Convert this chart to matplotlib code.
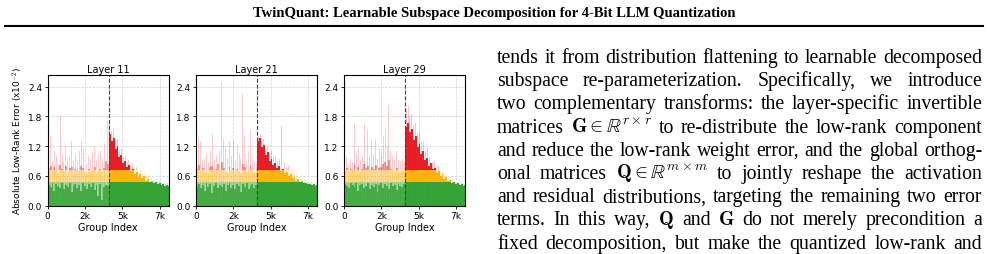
import numpy as np
import matplotlib
matplotlib.use("Agg")
import matplotlib.pyplot as plt

plt.rcParams['mathtext.fontset'] = 'cm'

# ---------------- data ----------------
layers = ["Layer 11", "Layer 21", "Layer 29"]
x_ticks = [0, 2500, 5000, 7500]
x_tick_labels = ["0", "2k", "5k", "7k"]
y_ticks = [0.0, 0.6, 1.2, 1.8, 2.4]
y_tick_labels = ["0.0", "0.6", "1.2", "1.8", "2.4"]
split_index = 4096
bin_size = 128
thresholds = [0.48, 0.72]

# per-bin spike heights (pale), body heights, and left-half floor (green dips)
l11_peak = [0.95, 1.41, 0.90, 1.10, 1.00, 0.85, 1.80, 1.05, 0.90, 1.20, 0.95, 1.00, 1.30, 0.90, 1.05, 0.88,
            1.10, 1.30, 1.15, 0.92, 0.85, 1.00, 0.95, 1.08, 1.20, 0.90, 1.05, 1.10, 0.95, 1.25, 2.27, 1.70,
            1.65, 1.50, 1.55, 1.30, 1.35, 1.12, 1.15, 0.98, 1.00, 0.88, 0.92, 0.80, 0.84, 0.74, 0.78, 0.68,
            0.72, 0.64, 0.66, 0.58, 0.60, 0.54, 0.56, 0.50, 0.52, 0.48, 0.49, 0.46, 0.47, 0.44, 0.45, 0.43]
l11_body = [0.75, 0.80, 0.70, 0.78, 0.72, 0.66, 0.82, 0.74, 0.70, 0.80, 0.68, 0.76, 0.78, 0.65, 0.74, 0.72,
            0.70, 0.80, 0.75, 0.68, 0.66, 0.74, 0.70, 0.72, 0.78, 0.64, 0.70, 0.74, 0.68, 0.76, 0.90, 0.85,
            1.45, 1.30, 1.36, 1.14, 1.20, 0.98, 1.03, 0.86, 0.91, 0.77, 0.82, 0.69, 0.74, 0.63, 0.68, 0.58,
            0.63, 0.55, 0.59, 0.50, 0.54, 0.47, 0.50, 0.45, 0.47, 0.43, 0.45, 0.42, 0.43, 0.40, 0.42, 0.39]
l11_floor = [0.42, 0.38, 0.45, 0.30, 0.44, 0.40, 0.35, 0.46, 0.33, 0.42, 0.38, 0.45, 0.28, 0.40, 0.44, 0.36,
             0.42, 0.30, 0.45, 0.40, 0.34, 0.43, 0.38, 0.46, 0.32, 0.41, 0.20, 0.44, 0.12, 0.38, 0.42, 0.40]

l21_peak = [1.00, 1.38, 1.30, 0.90, 0.95, 1.05, 0.88, 1.10, 1.45, 0.92, 1.00, 1.95, 1.10, 2.49, 1.35, 1.20,
            0.95, 1.30, 1.00, 1.30, 0.90, 1.20, 1.05, 0.95, 2.26, 1.40, 0.90, 1.10, 1.50, 0.95, 0.90, 0.85,
            1.40, 1.45, 1.30, 1.35, 1.15, 1.20, 1.05, 1.10, 0.98, 1.00, 0.90, 0.95, 1.60, 0.86, 0.88, 0.78,
            0.80, 0.70, 0.74, 0.64, 0.66, 0.57, 0.60, 0.52, 0.54, 0.48, 0.50, 0.46, 0.47, 0.44, 0.45, 0.42]
l21_body = [0.74, 0.82, 0.70, 0.76, 0.68, 0.72, 0.66, 0.78, 0.80, 0.70, 0.74, 0.85, 0.72, 0.88, 0.76, 0.70,
            0.66, 0.78, 0.72, 0.76, 0.68, 0.74, 0.70, 0.66, 0.84, 0.78, 0.68, 0.72, 0.80, 0.70, 0.66, 0.68,
            1.30, 1.36, 1.18, 1.22, 1.02, 1.08, 0.90, 0.95, 0.82, 0.86, 0.75, 0.79, 0.70, 0.74, 0.65, 0.68,
            0.60, 0.63, 0.55, 0.58, 0.50, 0.53, 0.47, 0.49, 0.45, 0.46, 0.43, 0.44, 0.42, 0.43, 0.40, 0.41]
l21_floor = [0.40, 0.44, 0.36, 0.42, 0.30, 0.45, 0.38, 0.43, 0.25, 0.40, 0.46, 0.35, 0.42, 0.38, 0.44, 0.30,
             0.41, 0.45, 0.36, 0.42, 0.33, 0.44, 0.40, 0.28, 0.43, 0.38, 0.45, 0.34, 0.40, 0.44, 0.36, 0.42]

l29_peak = [0.90, 1.00, 0.85, 0.95, 0.88, 1.65, 1.05, 1.20, 0.92, 1.00, 1.65, 1.10, 1.55, 1.00, 1.30, 1.05,
            1.35, 0.95, 1.15, 1.05, 1.40, 1.55, 1.20, 2.03, 1.10, 1.00, 0.95, 1.10, 0.92, 0.90, 0.95, 0.88,
            1.95, 2.00, 1.80, 1.85, 1.62, 1.66, 1.45, 1.48, 1.28, 1.30, 1.12, 1.16, 0.98, 1.02, 0.88, 0.90,
            0.78, 0.80, 0.70, 0.72, 0.62, 0.64, 0.56, 0.58, 0.51, 0.52, 0.48, 0.48, 0.45, 0.46, 0.44, 0.43]
l29_body = [0.70, 0.76, 0.68, 0.74, 0.72, 0.82, 0.70, 0.78, 0.68, 0.74, 0.84, 0.76, 0.80, 0.72, 0.78, 0.74,
            0.82, 0.70, 0.76, 0.78, 0.84, 0.88, 0.80, 0.92, 0.74, 0.72, 0.68, 0.76, 0.70, 0.68, 0.72, 0.70,
            1.58, 1.66, 1.48, 1.54, 1.33, 1.40, 1.18, 1.24, 1.04, 1.10, 0.92, 0.97, 0.81, 0.86, 0.73, 0.76,
            0.66, 0.69, 0.60, 0.63, 0.54, 0.57, 0.49, 0.51, 0.46, 0.47, 0.43, 0.45, 0.42, 0.43, 0.40, 0.41]
l29_floor = [0.44, 0.40, 0.35, 0.45, 0.42, 0.38, 0.46, 0.30, 0.42, 0.44, 0.36, 0.40, 0.45, 0.33, 0.42, 0.38,
             0.44, 0.28, 0.41, 0.45, 0.36, 0.43, 0.40, 0.34, 0.45, 0.39, 0.42, 0.31, 0.44, 0.40, 0.37, 0.43]

peaks = [l11_peak, l21_peak, l29_peak]
bodies = [l11_body, l21_body, l29_body]
floors = [l11_floor, l21_floor, l29_floor]

title_text = "TwinQuant: Learnable Subspace Decomposition for 4-Bit LLM Quantization"
body_lines = [
    ["tends", "it", "from", "distribution", "flattening", "to", "learnable", "decomposed"],
    ["subspace", "re-parameterization.", "Specifically,", "we", "introduce"],
    ["two", "complementary", "transforms:", "the", "layer-specific", "invertible"],
    ["matrices", r"$\mathbf{G} \in \mathbb{R}^{r\times r}$", "to", "re-distribute", "the", "low-rank", "component"],
    ["and", "reduce", "the", "low-rank", "weight", "error,", "and", "the", "global", "orthog-"],
    ["onal", "matrices", r"$\mathbf{Q} \in \mathbb{R}^{m\times m}$", "to", "jointly", "reshape", "the", "activation"],
    ["and", "residual", "distributions,", "targeting", "the", "remaining", "two", "error"],
    ["terms.", "In", "this", "way,", r"$\mathbf{Q}$", "and", r"$\mathbf{G}$", "do", "not", "merely", "precondition", "a"],
    ["fixed", "decomposition,", "but", "make", "the", "quantized", "low-rank", "and"],
]

# ---------------- style ----------------
W, H = 988, 255
GREEN, ORANGE, RED = "#2ca02c", "#ffb000", "#e8141c"

fig = plt.figure(figsize=(W / 100, H / 100), dpi=100)


def draw_bands(ax, x, h, width, alpha):
    h = np.asarray(h, dtype=float)
    t1, t2 = thresholds
    g = np.minimum(h, t1)
    o = np.clip(h, t1, t2) - t1
    r = np.maximum(h, t2) - t2
    ax.bar(x, g, width, bottom=0, color=GREEN, alpha=alpha, linewidth=0, zorder=2)
    ax.bar(x, o, width, bottom=t1, color=ORANGE, alpha=alpha, linewidth=0, zorder=2)
    ax.bar(x, r, width, bottom=t2, color=RED, alpha=alpha, linewidth=0, zorder=2)


ax_lefts = [47.7, 196.0, 344.0]
ax_w = 121.0
ax_top, ax_bot = 75.7, 206.7

for i, name in enumerate(layers):
    ax = fig.add_axes([ax_lefts[i] / W, 1 - ax_bot / H, ax_w / W, (ax_bot - ax_top) / H])
    peak = np.asarray(peaks[i])
    body = np.asarray(bodies[i])
    floor = np.asarray(floors[i])
    n = len(peak)
    centers = np.arange(n) * bin_size + bin_size / 2
    left = centers < split_index
    right = ~left
    # left half: pale
    draw_bands(ax, centers[left], floor, bin_size, 0.75)
    draw_bands(ax, centers[left], body[left], bin_size, 0.42)
    draw_bands(ax, centers[left], peak[left], bin_size * 0.5, 0.22)
    # right half: saturated
    draw_bands(ax, centers[right], body[right], bin_size, 0.95)
    draw_bands(ax, centers[right], peak[right], bin_size * 0.5, 0.25)

    ax.axvline(split_index, color="#444444", linestyle="--", linewidth=0.8, zorder=3)
    ax.set_xlim(0, 8100)
    ax.set_ylim(0, 2.64)
    ax.set_xticks(x_ticks)
    ax.set_xticklabels(x_tick_labels)
    ax.set_yticks(y_ticks)
    ax.set_yticklabels(y_tick_labels)
    ax.tick_params(labelsize=6.5, length=2.5, width=0.6, pad=1.5)
    ax.grid(True, color="#d0d0d0", linestyle="--", linewidth=0.5, zorder=0)
    ax.set_axisbelow(True)
    for s in ax.spines.values():
        s.set_linewidth(0.8)
    ax.set_title(name, fontsize=7, pad=2)
    ax.set_xlabel("Group Index", fontsize=7, labelpad=1)
    if i == 0:
        ax.set_ylabel(r"Absolute Low-Rank Error (x10$^{-2}$)", fontsize=6.5, labelpad=2)

# ---------------- page text ----------------
fig.text(0.5, 1 - 13 / H, title_text, ha="center", va="center",
         fontsize=10.5, fontweight="bold", family="Liberation Serif")
fig.add_artist(plt.Line2D([5 / W, 983 / W], [1 - 27 / H, 1 - 27 / H], color="black", linewidth=1.5))

renderer = fig.canvas.get_renderer()
x0, x1 = 497.0, 982.0
baseline0, spacing = 63.0, 23.2
fs = 14.2
for li, toks in enumerate(body_lines):
    y = 1 - (baseline0 + li * spacing) / H
    texts = [fig.text(0, y, t, fontsize=fs, family="Liberation Serif", va="baseline", ha="left")
             for t in toks]
    widths = [t.get_window_extent(renderer).width for t in texts]
    gap = (x1 - x0 - sum(widths)) / (len(texts) - 1)
    x = x0
    for t, w in zip(texts, widths):
        t.set_x(x / W)
        x += w + gap

fig.savefig("out.png", dpi=100)
